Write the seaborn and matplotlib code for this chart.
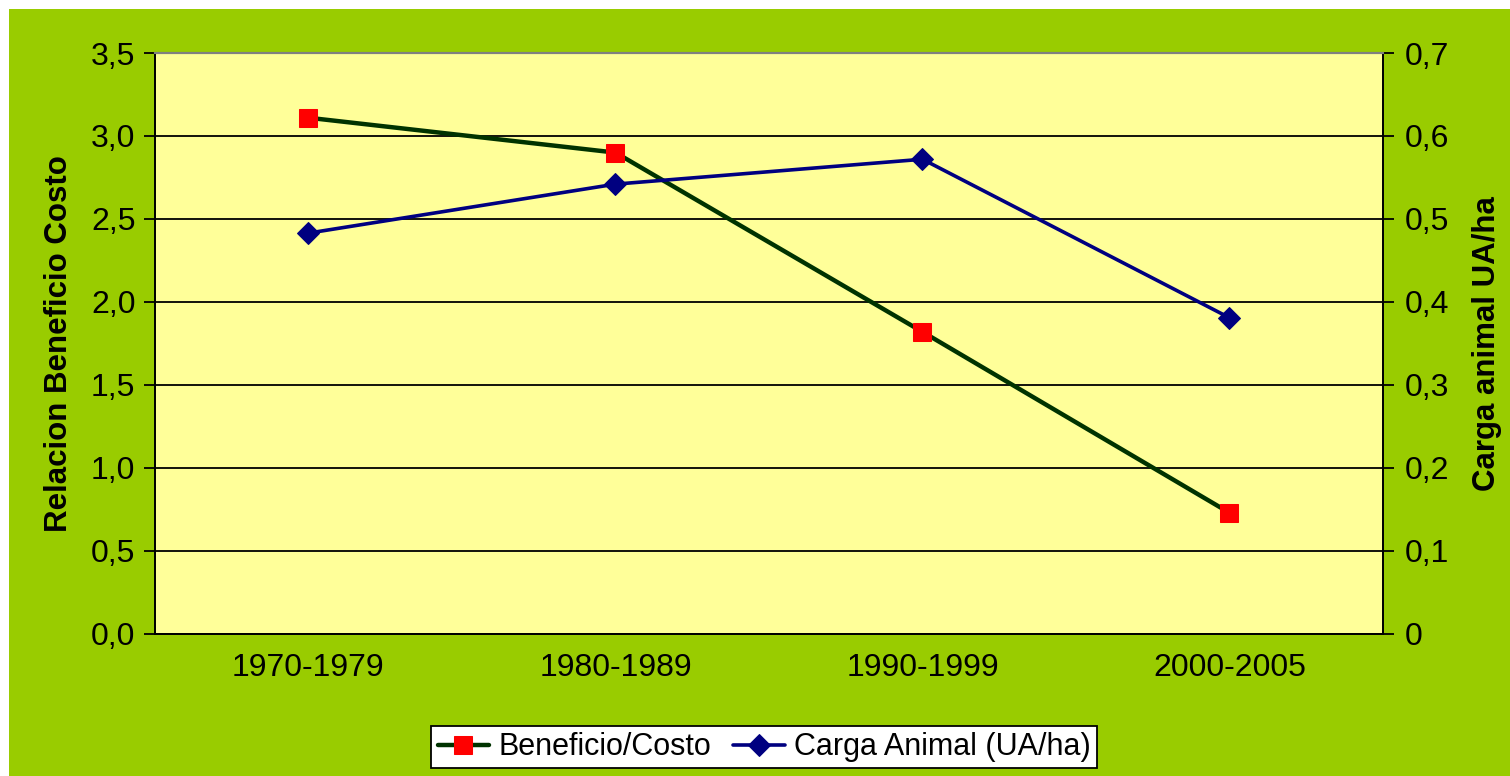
"""Beneficio/Costo y carga animal por decada."""

import matplotlib.pyplot as plt
import matplotlib.patches as mpatches
from matplotlib.ticker import FixedLocator, FuncFormatter
import pandas as pd
import seaborn as sns

periodos = ["1970-1979", "1980-1989", "1990-1999", "2000-2005"]
beneficio_costo = [3.11, 2.90, 1.82, 0.73]
carga_animal = [0.483, 0.542, 0.572, 0.381]

sns.set_theme(style="white")
plt.rcParams["font.family"] = ["Liberation Sans", "DejaVu Sans"]
plt.rcParams.update({"text.color": "black", "axes.labelcolor": "black",
                     "xtick.color": "black", "ytick.color": "black"})

data = pd.DataFrame({"Periodo": periodos,
                     "BC": beneficio_costo,
                     "Carga": carga_animal})
data["x"] = range(len(periodos))

GREEN = "#99CC00"
fig = plt.figure(figsize=(15.1, 7.76), dpi=100, facecolor=GREEN)
# white strip on top and left, as in the original export
fig.patches.append(mpatches.Rectangle((0, 1 - 9/776), 1, 9/776,
                                      transform=fig.transFigure,
                                      facecolor="white", lw=0, zorder=-10))
fig.patches.append(mpatches.Rectangle((0, 0), 9/1510, 1,
                                      transform=fig.transFigure,
                                      facecolor="white", lw=0, zorder=-10))
ax = fig.add_axes([0.1026, 0.183, 0.8133, 0.7487])
ax.set_facecolor("#FFFF99")
ax2 = ax.twinx()

sns.lineplot(x="x", y="BC", data=data, ax=ax, color="#003300", lw=3.2,
             marker="s", markersize=13, markerfacecolor="red",
             markeredgecolor="red", label="Beneficio/Costo", legend=False)
sns.lineplot(x="x", y="Carga", data=data, ax=ax2, color="#000080", lw=2.6,
             marker="D", markersize=11, markerfacecolor="#000080",
             markeredgecolor="#000080", label="Carga Animal (UA/ha)",
             legend=False)

ax.set_xlim(-0.5, 3.5)
ax.set_ylim(0, 3.5)
ax2.set_ylim(0, 0.7)
ax.set_yticks([0, 0.5, 1, 1.5, 2, 2.5, 3, 3.5])
ax2.set_yticks([0, 0.1, 0.2, 0.3, 0.4, 0.5, 0.6, 0.7])
ax.yaxis.set_major_formatter(FuncFormatter(lambda v, p: f"{v:.1f}".replace(".", ",")))
ax2.yaxis.set_major_formatter(FuncFormatter(
    lambda v, p: "0" if v == 0 else f"{v:.1f}".replace(".", ",")))
ax.set_xticks(range(len(periodos)))
ax.set_xticklabels(periodos)
ax.xaxis.set_minor_locator(FixedLocator([-0.5, 0.5, 1.5, 2.5, 3.5]))
ax.tick_params(axis="x", which="major", length=0, pad=14, labelsize=23)
ax.tick_params(axis="x", which="minor", length=8, width=1.3, color="black",
               direction="out")
ax.tick_params(axis="y", length=8, width=1.3, color="black", labelsize=23,
               direction="out", left=True, pad=6)
ax2.tick_params(axis="y", length=8, width=1.3, color="black", labelsize=23,
                direction="out", right=True, pad=8)
ax.grid(axis="y", color="black", lw=1.3)
ax.set_axisbelow(True)

for a in (ax, ax2):
    for side in ["left", "right", "bottom"]:
        a.spines[side].set_color("black")
        a.spines[side].set_linewidth(1.3)
    a.spines["top"].set_color("#808080")
    a.spines["top"].set_linewidth(1.5)

ax.set_xlabel("")
ax.set_ylabel("Relacion Beneficio Costo", fontsize=22.5, fontweight="bold",
              labelpad=12)
ax2.set_ylabel("Carga animal UA/ha", fontsize=22.5, fontweight="bold",
               labelpad=16)

h1, l1 = ax.get_legend_handles_labels()
h2, l2 = ax2.get_legend_handles_labels()
leg = fig.legend(h1 + h2, l1 + l2, loc="center", bbox_to_anchor=(0.506, 0.037),
                 ncol=2, fontsize=22, frameon=True, fancybox=False,
                 edgecolor="black", facecolor="white", framealpha=1,
                 handlelength=1.7, columnspacing=0.7, handletextpad=0.3,
                 borderpad=0.2, borderaxespad=0)
leg.get_frame().set_linewidth(1.3)

fig.savefig("out.png", dpi=100, facecolor=fig.get_facecolor())
